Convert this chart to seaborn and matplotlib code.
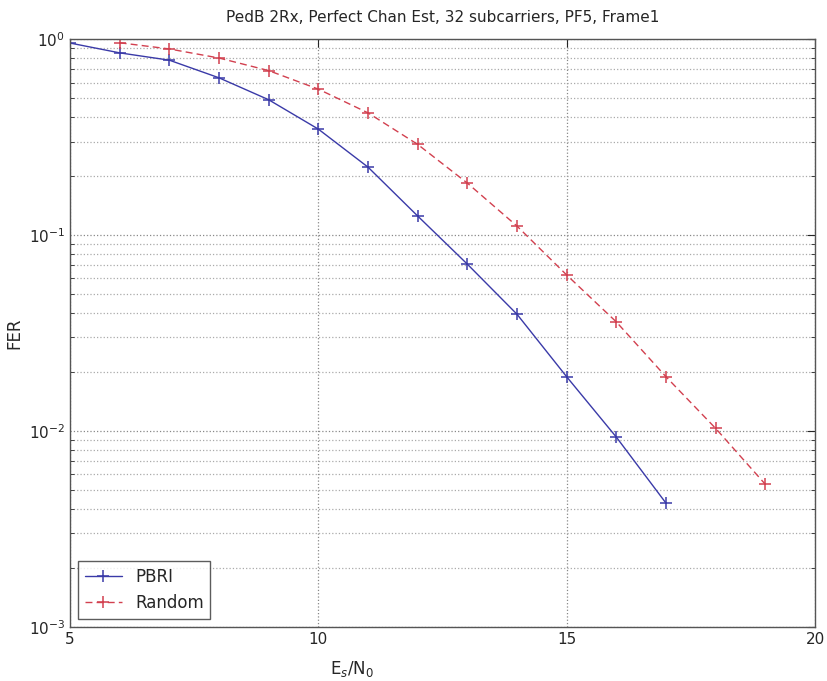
import numpy as np
import pandas as pd
import matplotlib
matplotlib.use("Agg")
import matplotlib.pyplot as plt
import seaborn as sns
from matplotlib.ticker import LogLocator, FixedLocator

sns.set_style("white")
plt.rcParams['font.family'] = ['DejaVu Sans']

# values
snr_pbri = [5, 6, 7, 8, 9, 10, 11, 12, 13, 14, 15, 16, 17]
fer_pbri = [0.954, 0.85, 0.78, 0.634, 0.49, 0.347, 0.222, 0.125, 0.071,
            0.0394, 0.0189, 0.0093, 0.00428]
snr_random = [6, 7, 8, 9, 10, 11, 12, 13, 14, 15, 16, 17, 18, 19]
fer_random = [0.957, 0.89, 0.80, 0.69, 0.555, 0.42, 0.29, 0.184, 0.111,
              0.0625, 0.036, 0.0189, 0.0103, 0.00534]

df = pd.concat([
    pd.DataFrame({'snr': snr_pbri, 'fer': fer_pbri, 'scheme': 'PBRI'}),
    pd.DataFrame({'snr': snr_random, 'fer': fer_random, 'scheme': 'Random'}),
], ignore_index=True)

fig = plt.figure(figsize=(8.27, 6.81), dpi=100)
ax = fig.add_axes([0.0846, 0.0793, 0.901, 0.8634])

sns.lineplot(data=df, x='snr', y='fer', hue='scheme', style='scheme',
             palette={'PBRI': '#3a3aa8', 'Random': '#d2404f'},
             dashes={'PBRI': '', 'Random': (5, 3)},
             markers={'PBRI': '+', 'Random': '+'},
             markersize=9, markeredgewidth=1.1, linewidth=1.0, ax=ax)
# '+' markers need their edge in the line colour
for ln in ax.get_lines():
    ln.set_markeredgecolor(ln.get_color())

ax.set_yscale('log')
ax.set_xlim(5, 20)
ax.set_ylim(1e-3, 1)
ax.xaxis.set_major_locator(FixedLocator([5, 10, 15, 20]))
ax.yaxis.set_major_locator(LogLocator(base=10))
ax.yaxis.set_minor_locator(LogLocator(base=10, subs=np.arange(2, 10)))

ax.grid(True, which='major', axis='both', linestyle=':', color='#888888', linewidth=0.9)
ax.grid(True, which='minor', axis='y', linestyle=':', color='#aaaaaa', linewidth=0.9)
ax.tick_params(which='both', direction='in', top=True, right=True, labelsize=11)
ax.tick_params(which='major', length=6)
ax.tick_params(which='minor', length=3, left=True, right=True)
for s in ax.spines.values():
    s.set_color('#555555')
    s.set_linewidth(1.0)

ax.set_title('PedB 2Rx, Perfect Chan Est, 32 subcarriers, PF5, Frame1', fontsize=11, pad=12)
ax.set_xlabel('E$_s$/N$_0$', fontsize=12)
ax.xaxis.set_label_coords(0.378, -0.055)
ax.set_ylabel('FER', fontsize=12)

leg = ax.legend(title=None, loc='lower left', fontsize=12, frameon=True,
                fancybox=False, edgecolor='#333333', borderaxespad=0.5,
                handlelength=2.2)
leg.get_frame().set_linewidth(1.0)
for h in leg.get_lines():
    h.set_markeredgecolor(h.get_color())

fig.savefig('out.png', dpi=100)
